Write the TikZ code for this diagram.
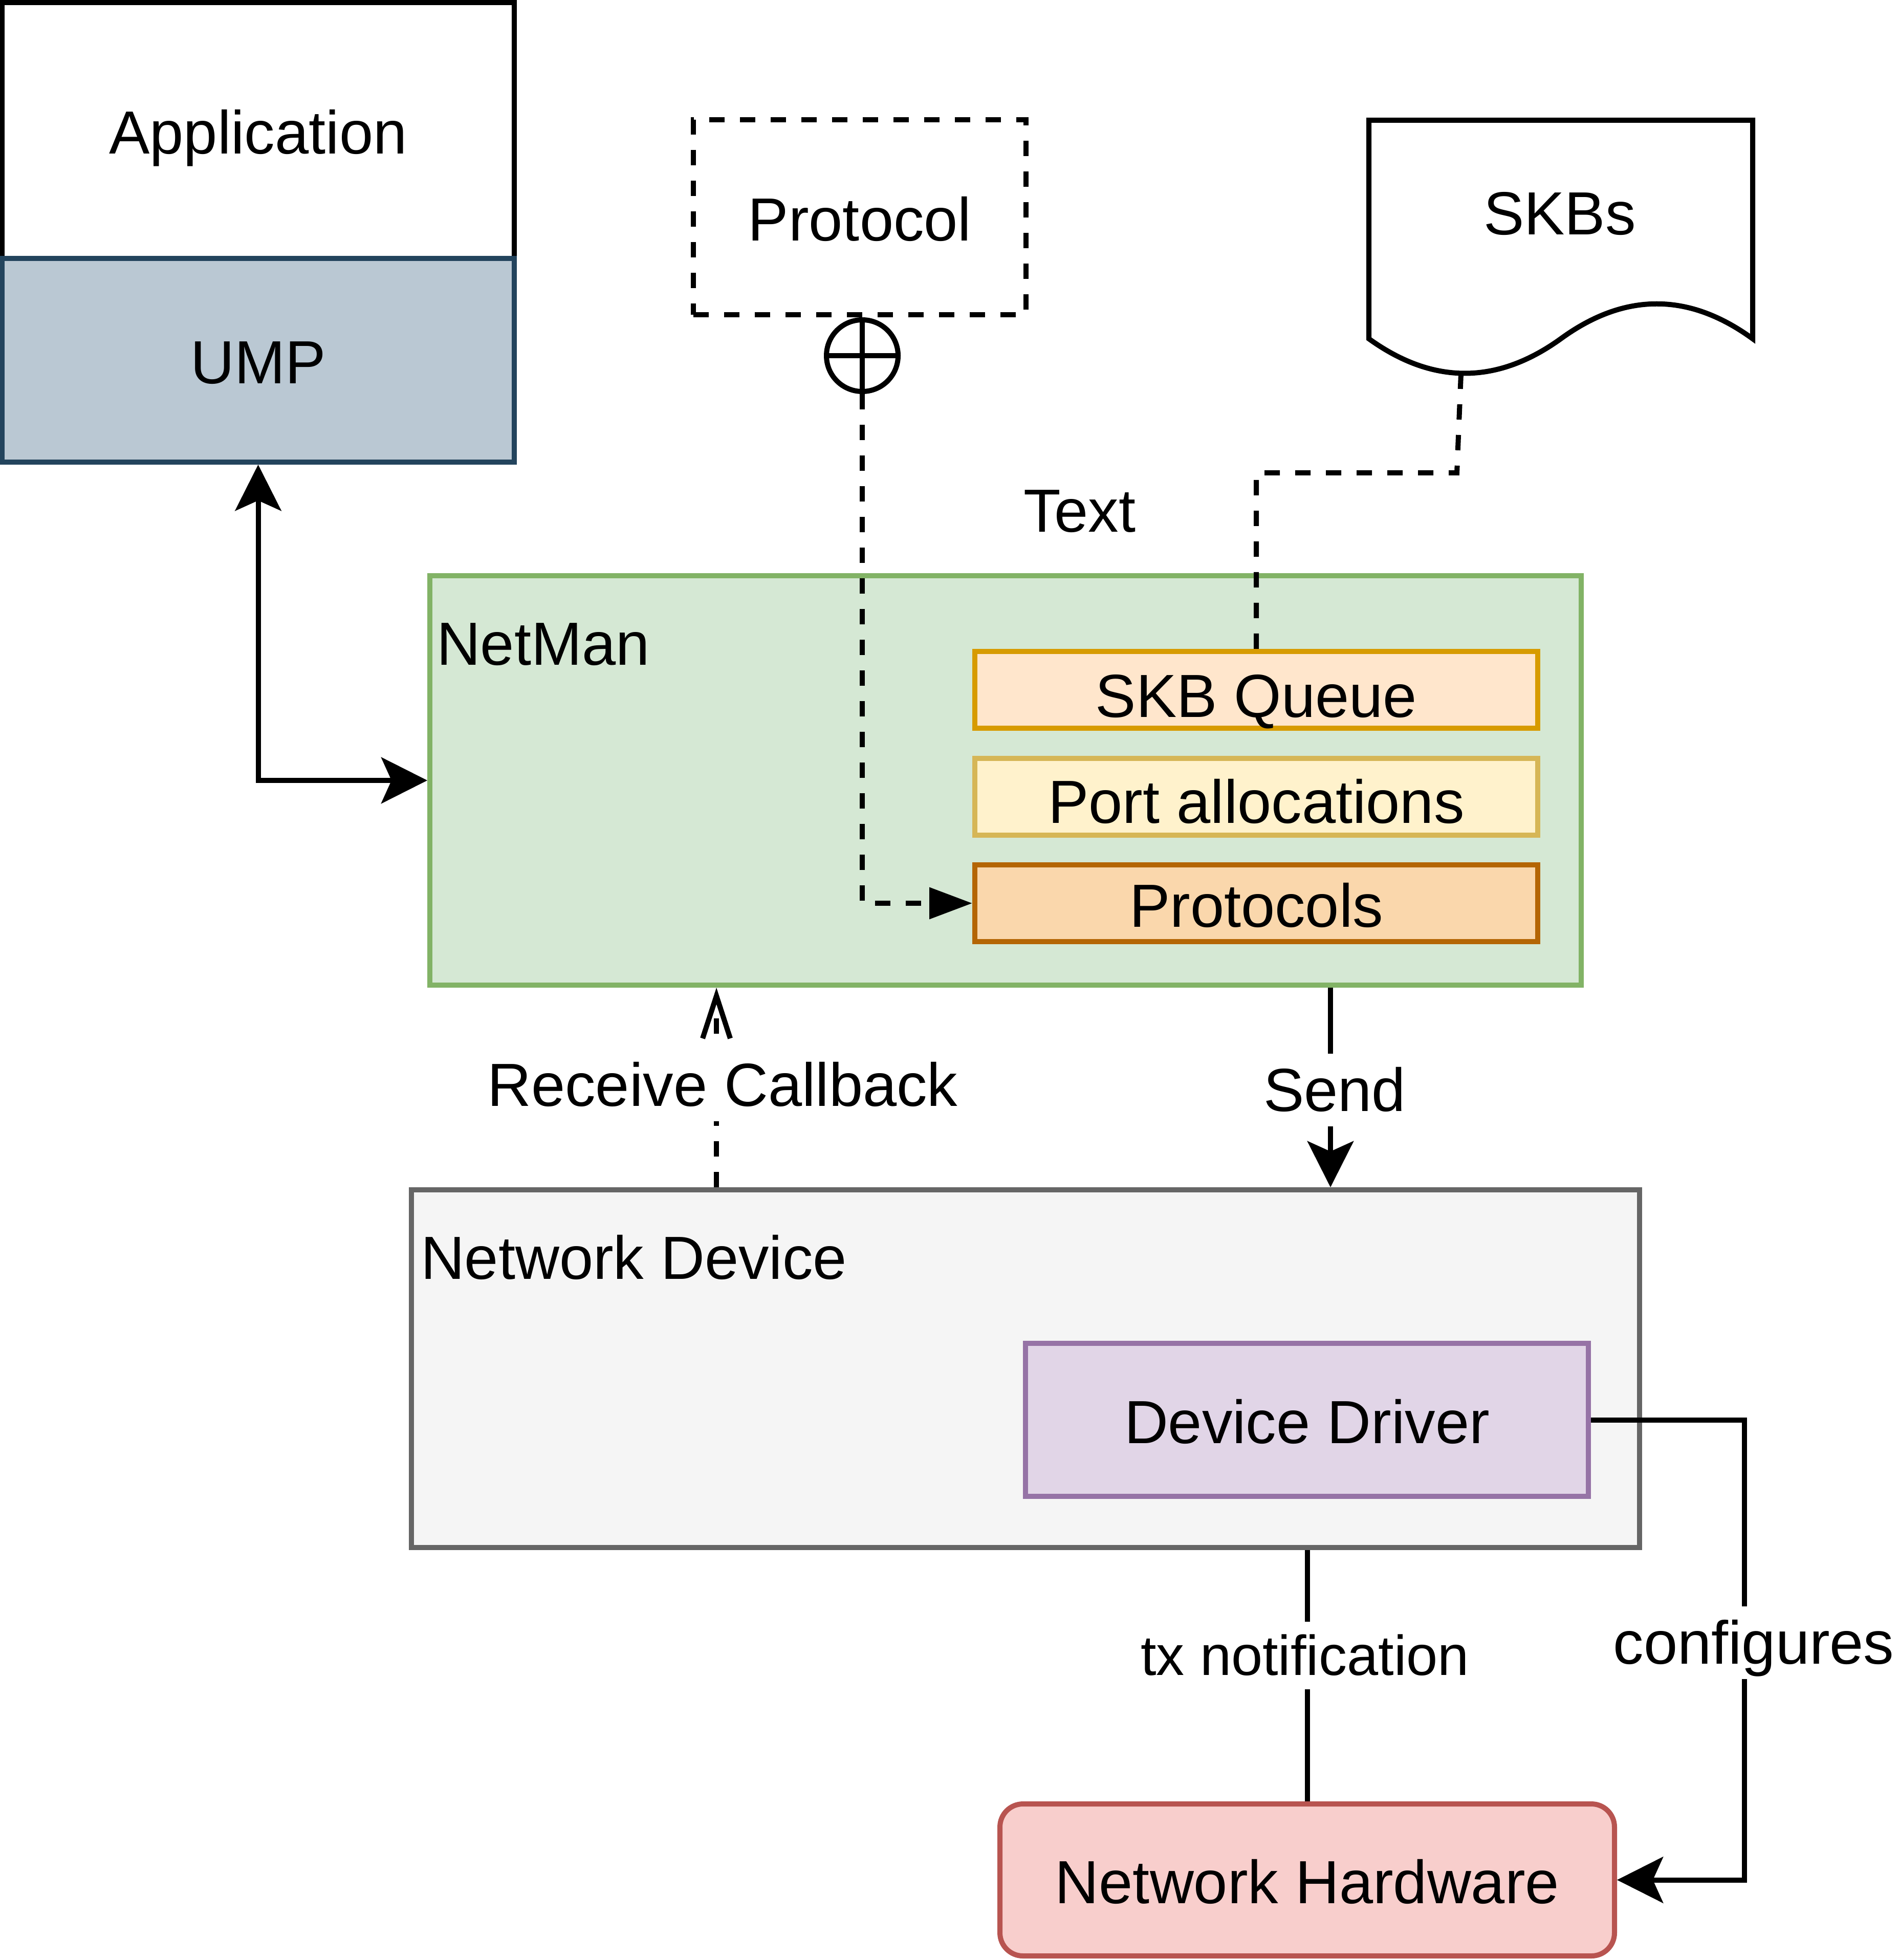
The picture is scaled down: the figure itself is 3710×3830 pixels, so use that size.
\documentclass[tikz,border=0pt]{standalone}
\usepackage{fontspec}
\setmainfont{Liberation Sans}
\usetikzlibrary{arrows.meta,calc}
\definecolor{umpF}{HTML}{BAC8D3}
\definecolor{umpS}{HTML}{23445D}
\definecolor{nmF}{HTML}{D5E8D4}
\definecolor{nmS}{HTML}{82B366}
\definecolor{sqF}{HTML}{FFE6CC}
\definecolor{sqS}{HTML}{D79B00}
\definecolor{paF}{HTML}{FFF2CC}
\definecolor{paS}{HTML}{D6B656}
\definecolor{prF}{HTML}{FAD7AC}
\definecolor{prS}{HTML}{B46504}
\definecolor{ndF}{HTML}{F5F5F5}
\definecolor{ndS}{HTML}{666666}
\definecolor{ddF}{HTML}{E1D5E7}
\definecolor{ddS}{HTML}{9673A6}
\definecolor{nhF}{HTML}{F8CECC}
\definecolor{nhS}{HTML}{B85450}
\tikzset{
  txt/.style={font=\fontsize{11.9pt}{14.3pt}\selectfont, text height=11.2pt, text depth=3pt, inner sep=0pt},
  smalltxt/.style={font=\fontsize{11pt}{13.2pt}\selectfont, text height=10.4pt, text depth=2.8pt, inner sep=0pt},
  box/.style={txt, rectangle, draw, line width=1pt, text height=11.7pt, text depth=2.5pt},
  lbl/.style={txt, fill=white, inner xsep=1pt, inner ysep=0pt},
  conn/.style={line width=1pt},
  dsh/.style={dash pattern=on 3pt off 3pt},
  stl/.tip={Stealth[length=9pt,width=9pt,inset=2pt]},
  obarb/.tip={Straight Barb[length=8.3pt,width=5.4pt,line join=miter]},
  ftri/.tip={Triangle[length=8.4pt,width=6pt]}
}
\begin{document}
\begin{tikzpicture}[x=0.1pt,y=-0.1pt]
\useasboundingbox[fill=white] (0,0) rectangle (3710,3830);

% Application / UMP
\node[box, fill=white, minimum width=100.1pt, minimum height=50pt] (app) at (504.5,255) {Application};
\node[box, draw=umpS, fill=umpF, minimum width=100.1pt, minimum height=39.8pt] (ump) at (504.5,704) {UMP};

% Protocol (dashed)
\node[box, dsh, minimum width=65pt, minimum height=38.1pt] (proto) at (1680,424.5) {Protocol};
\node[circle, draw, line width=1pt, fill=white, minimum size=14pt, inner sep=0pt] (cp) at (1685,695) {};
\draw[conn] (cp.north) -- (cp.south) (cp.west) -- (cp.east);

% SKBs document shape
\draw[line width=1pt, fill=white] (2675,235) -- (3425,235) -- (3425,662)
  .. controls (3300,571) and (3175,571) .. (3050,662)
  .. controls (2925,752) and (2800,752) .. (2675,662) -- cycle;
\node[txt] (skbs) at (3048,418) {SKBs};
\coordinate (skbsb) at (2855,730);
\coordinate (skbsc) at (2847,924);

% free text
\node[txt] (textlbl) at (2110,999) {Text};

% NetMan
\node[box, draw=nmS, fill=nmF, minimum width=225pt, minimum height=80pt] (netman) at (1965,1525) {};
\node[txt, anchor=west] (nmlbl) at (851,1258) {NetMan};
\node[box, draw=sqS, fill=sqF, minimum width=110pt, minimum height=15pt, text height=12.8pt, text depth=2.2pt] (skbq) at (2455,1348) {SKB Queue};
\node[box, draw=paS, fill=paF, minimum width=110pt, minimum height=15pt, text height=12.6pt, text depth=2.4pt] (ports) at (2455,1557) {Port allocations};
\node[box, draw=prS, fill=prF, minimum width=110pt, minimum height=15pt] (protocols) at (2455,1765) {Protocols};

% Network Device
\node[box, draw=ndS, fill=ndF, minimum width=240pt, minimum height=69.9pt] (nd) at (2004,2674.5) {};
\node[txt, anchor=west] (ndlbl) at (820,2458) {Network Device};
\node[box, draw=ddS, fill=ddF, minimum width=110pt, minimum height=29.9pt] (dd) at (2554,2774.5) {Device Driver};

% Network Hardware
\node[box, draw=nhS, fill=nhF, rounded corners=4.5pt, minimum width=120.1pt, minimum height=29.7pt] (nh) at (2554.5,3673.5) {Network Hardware};

% connectors
\draw[conn, stl-stl] (ump.south) |- (netman.west);
\draw[conn, dsh, -ftri] (cp.south) |- (protocols.west);
\draw[conn, dsh] (skbsb) -- (skbsc) -| (skbq.north);
\draw[conn, dsh, -obarb]
  ([xshift=60.1pt]nd.north west) -- ([xshift=60.1pt]nd.north west |- netman.south);
\draw[conn, -stl] ([xshift=176.5pt]netman.south west) -- ([xshift=176.5pt]netman.south west |- nd.north);
\draw[conn] (nh.north) -- (nh.north |- nd.south);
\draw[conn, -stl] (dd.east) -- ++(300,0) |- (nh.east);

% connector labels
\node[lbl] (rcl) at (1412,2120) {Receive Callback};
\node[lbl] (sendl) at (2608,2130) {Send};
\node[lbl, smalltxt, inner xsep=1pt] (txl) at (2550,3235) {tx notification};
\node[lbl] (cfgl) at (3427,3210) {configures};
\end{tikzpicture}
\end{document}
